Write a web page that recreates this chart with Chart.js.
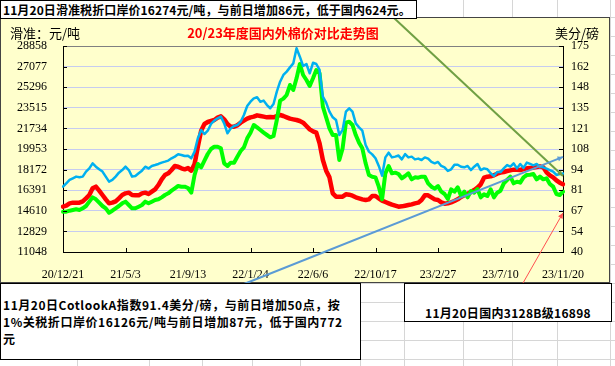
<!DOCTYPE html>
<html>
<head>
<meta charset="utf-8">
<script src="https://cdn.jsdelivr.net/npm/chart.js@4"></script>
<style>
  body { margin: 0; width: 615px; height: 366px; overflow: hidden; position: relative; font-family: "Noto Sans CJK SC", sans-serif; }
  #c { position: absolute; left: 0; top: 0; }
  .box { position: absolute; background: #fff; border: 1px solid #000; box-sizing: border-box; font-weight: bold; font-size: 12px; color: #000; white-space: nowrap; }
  .lbl { position: absolute; font-size: 13px; line-height: 16px; white-space: nowrap; color: #000; }
</style>
</head>
<body>
<canvas id="c" width="615" height="366"></canvas>
<div class="box" style="left:0;top:0;width:417px;height:19px;line-height:17px;padding-left:2px;letter-spacing:0.1px;">11月20日滑准税折口岸价16274元/吨，与前日增加86元，低于国内624元。</div>
<div class="lbl" style="left:10px;top:25px;">滑准：元/吨</div>
<div class="lbl" style="left:0;top:25px;width:566px;text-align:center;color:#f00;font-weight:bold;">20/23年度国内外棉价对比走势图</div>
<div class="lbl" style="left:555px;top:25px;">美分/磅</div>
<div class="box" style="left:0;top:283px;width:361px;height:77px;line-height:17px;padding:12px 0 0 2px;letter-spacing:0.55px;">11月20日CotlookA指数91.4美分/磅，与前日增加50点，按<br>1%关税折口岸价16126元/吨与前日增加87元，低于国内772<br>元</div>
<div class="box" style="left:404px;top:283px;width:208px;height:39px;line-height:16px;padding-top:21px;text-align:center;letter-spacing:0.3px;">11月20日国内3128B级16898</div>
<script>
// weekly readings, 20/12/21 .. 23/11/20
const xTicks = ['20/12/21', '21/5/3', '21/9/13', '22/1/24', '22/6/6', '22/10/17', '23/2/27', '23/7/10', '23/11/20']
const leftTicks = [11048, 12829, 14610, 16391, 18172, 19953, 21734, 23515, 25296, 27077, 28858]
const rightTicks = [40, 53.5, 67, 80.5, 94, 107.5, 121, 134.5, 148, 161.5, 175]
const rightTickLabels = ['40', '54', '67', '81', '94', '108', '121', '135', '148', '162', '175']

// Cotlook A, US cents/lb (right axis)
const cotlookA = [
  82.8, 85.0, 87.2, 88.3, 89.4, 89.0, 89.4, 92.7, 94.8, 98.1,
  95.9, 94.2, 92.7, 89.4, 86.1, 87.2, 89.4, 92.0, 93.7, 95.9,
  93.7, 89.4, 89.8, 91.6, 93.3, 95.9, 94.8, 96.4, 97.0, 97.7,
  98.6, 99.2, 99.9, 101.4, 102.5, 104.0, 103.6, 102.9, 103.1,
  101.4, 105.8, 114.5, 120.0, 117.3, 119.5, 123.9, 126.1, 127.6, 128.7,
  124.3, 117.8, 121.0, 122.6, 123.2, 125.4, 129.8, 135.7, 138.5, 140.7,
  141.4, 138.5, 139.2, 136.3, 134.2, 137.0, 145.1, 151.6, 156.0, 158.2,
  161.0, 163.6, 173.5, 168.0, 161.9, 163.2, 157.1, 164.0,
  163.2, 159.3, 141.8, 137.9, 132.0, 128.3, 126.5, 116.7, 120.0, 132.0,
  134.2, 132.0, 124.3, 121.7, 119.5, 110.1, 105.8, 104.0, 101.4, 96.4,
  90.0, 102.0, 105.1, 102.0, 102.5, 103.2, 100.7, 104.2, 102.0, 102.5,
  100.7, 101.2, 100.3, 102.0, 101.2, 99.0, 98.1,
  99.0, 96.4, 95.5, 93.1, 94.2, 97.2, 97.2, 95.9, 95.5, 96.4,
  93.7, 95.9, 97.7, 93.7, 94.8, 94.2, 91.6, 89.8, 92.4, 92.4,
  94.8, 97.0, 95.9, 98.1, 94.8, 97.7, 95.1, 98.6, 97.7, 96.8,
  97.7, 95.9, 95.5, 94.6, 93.7, 92.7, 90.5, 91.1, 91.4
]

// domestic 3128B, yuan/t (left axis)
const domestic3128B = [
  14967, 15053, 15255, 15313, 15313, 15313, 15428, 15688, 15976, 16552,
  16696, 16350, 15976, 15602, 15255, 15313, 15428, 15688, 15976, 16120,
  16178, 15976, 15947, 15947, 16120, 16178, 16062, 16264, 16466, 16840,
  17330, 17705, 17849, 18137, 18483, 18425, 18281, 18195, 18300,
  18080, 18656, 20155, 21538, 22115, 22287, 22374, 22460, 22662, 22777,
  22518, 22115, 21884, 21884, 21999, 22230, 22403, 22576, 22691, 22749,
  22864, 22806, 22749, 22691, 22720, 22691, 22806, 22892, 22806, 22691,
  22576, 22518, 22460, 22374, 22230, 21941, 21650, 21480,
  21365, 20443, 19002, 18080, 17503, 16120, 15832, 15832, 15832, 16033,
  16004, 15918, 15774, 15688, 15601, 15544, 15601, 15889, 15889, 15688,
  15486, 15370, 15255, 15140, 15053, 14967, 14996, 15053, 15111, 15169,
  15255, 15313, 15544, 15947, 15947, 15774, 15601,
  15544, 15342, 15226, 15255, 15342, 15457, 15601, 15803, 15947, 16091,
  16235, 16408, 16610, 16898, 17474, 17561, 17590, 17676, 17820, 17907,
  17964, 18051, 18108, 18166, 18166, 18137, 18224, 18281, 18310, 18339,
  18397, 18454, 18368, 17935, 17676, 17503, 17244, 17042, 16898
]

// sliding-duty landed price, yuan/t (left axis)
const slidingDuty = [
  14535, 14535, 14621, 14679, 14737, 14679, 14823, 15025, 15400, 15774,
  15602, 15313, 15025, 14823, 14448, 14621, 14823, 15025, 15255, 15400,
  15111, 14823, 14823, 14967, 15111, 15400, 15255, 15400, 15544, 15602,
  15774, 15976, 16120, 16350, 16552, 16754, 16696, 16696, 16580,
  16178, 17705, 18656, 18368, 18944, 19520, 19953, 20155, 20155, 20010,
  18714, 18483, 18771, 18771, 19290, 19780, 20097, 20875, 21365, 22028,
  21826, 21596, 21365, 21163, 20962, 21077, 22460, 24132, 24305, 24622,
  25486, 25054, 26063, 27300, 26351, 25919, 25400, 26063,
  26783, 26495, 23613, 22691, 21740, 21163, 21163, 19002, 20010, 22230,
  22316, 22028, 21163, 20501, 20010, 18714, 17705, 17561, 17503, 16696,
  15600, 17849, 18483, 17849, 17907, 17791, 17417, 17618, 17849, 17330,
  17503, 17474, 17561, 17561, 16985, 16696, 16524,
  16754, 16264, 16062, 15630, 16466, 16264, 16639, 15918, 16264, 15774,
  16322, 16178, 16494, 15774, 16033, 15889, 16466, 15774, 16178, 16350,
  16985, 17273, 17561, 16985, 17129, 17042, 17503, 17705, 17734, 17791,
  17330, 17561, 17330, 17417, 16927, 16696, 16062, 15976, 16274
]

const weeksPerTick = 19
const labels = cotlookA.map((_, i) => i % weeksPerTick === 0 ? xTicks[i / weeksPerTick] : '')

// callout connectors from the text boxes: start pixel, end value on right axis
const callouts = [
  { from: [394, 18], to: 89.8, color: '#70A044', width: 2 },
  { from: [244, 284], to: 102.3, color: '#5B9BD5', width: 2 },
  { from: [523, 283], to: 65.6, color: '#FF5050', width: 1 }
]

const sheet = {
  id: 'sheet',
  beforeDraw(chart) {
    const ctx = chart.ctx
    ctx.save()
    ctx.fillStyle = '#fff'
    ctx.fillRect(0, 0, 615, 366)
    ctx.strokeStyle = '#d6d6d6'
    ctx.lineWidth = 1
    ctx.beginPath()
    for (let y = 17; y < 366; y += 19) { ctx.moveTo(0, y + 0.5); ctx.lineTo(615, y + 0.5) }
    ;[77, 149, 202, 252, 300, 360, 404, 463, 512, 557, 610].forEach(x => { ctx.moveTo(x + 0.5, 0); ctx.lineTo(x + 0.5, 366) })
    ctx.stroke()
    ctx.fillStyle = '#FFFFCC'
    ctx.fillRect(0, 17, 610, 266)
    ctx.strokeStyle = '#444'
    ctx.strokeRect(0.5, 17.5, 609, 265)
    ctx.restore()
  },
  beforeDatasetsDraw(chart) {
    const { ctx, chartArea: a } = chart
    ctx.save()
    ctx.strokeStyle = '#808080'
    ctx.lineWidth = 1
    ctx.beginPath()
    ctx.moveTo(a.left, a.top + 0.5)
    ctx.lineTo(a.right, a.top + 0.5)
    ctx.stroke()
    ctx.restore()
  },
  afterDraw(chart) {
    const { ctx, chartArea: a, scales } = chart
    ctx.save()
    ctx.strokeStyle = '#000'
    ctx.lineWidth = 1
    ctx.beginPath()
    scales.y.ticks.forEach(t => {
      const py = Math.round(scales.y.getPixelForValue(t.value)) + 0.5
      ctx.moveTo(a.left, py); ctx.lineTo(a.left + 4, py)
    })
    scales.y1.ticks.forEach(t => {
      const py = Math.round(scales.y1.getPixelForValue(t.value)) + 0.5
      ctx.moveTo(a.right - 4, py); ctx.lineTo(a.right, py)
    })
    scales.x.ticks.forEach(t => {
      const px = Math.round(scales.x.getPixelForValue(t.value)) + 0.5
      ctx.moveTo(px, a.bottom); ctx.lineTo(px, a.bottom - 4)
    })
    ctx.stroke()

    callouts.forEach(c => {
      const x0 = c.from[0], y0 = c.from[1]
      const x1 = a.right, y1 = scales.y1.getPixelForValue(c.to)
      ctx.strokeStyle = c.color
      ctx.fillStyle = c.color
      ctx.lineWidth = c.width
      ctx.beginPath()
      ctx.moveTo(x0, y0)
      ctx.lineTo(x1, y1)
      ctx.stroke()
      const ang = Math.atan2(y1 - y0, x1 - x0)
      const s = 6
      ctx.beginPath()
      ctx.moveTo(x1, y1)
      ctx.lineTo(x1 - s * Math.cos(ang - 0.45), y1 - s * Math.sin(ang - 0.45))
      ctx.lineTo(x1 - s * Math.cos(ang + 0.45), y1 - s * Math.sin(ang + 0.45))
      ctx.closePath()
      ctx.fill()
    })
    ctx.restore()
  }
}

const tickFont = { family: '"Liberation Serif", serif', size: 12 }

new Chart(document.getElementById('c'), {
  type: 'line',
  data: {
    labels,
    datasets: [
      { label: 'CotlookA', data: cotlookA, yAxisID: 'y1', borderColor: '#00B0F0', borderWidth: 2.5 },
      { label: '滑准税', data: slidingDuty, yAxisID: 'y', borderColor: '#00FF00', borderWidth: 4 },
      { label: '3128B', data: domestic3128B, yAxisID: 'y', borderColor: '#FF0000', borderWidth: 4.5 }
    ]
  },
  options: {
    responsive: false,
    animation: false,
    layout: { padding: { top: 46, left: 0, right: 0, bottom: 0 } },
    elements: { point: { radius: 0 }, line: { tension: 0, borderJoinStyle: 'round', borderCapStyle: 'round' } },
    plugins: { legend: { display: false }, tooltip: { enabled: false } },
    scales: {
      x: {
        grid: { display: false },
        border: { color: '#000', width: 1 },
        afterBuildTicks: s => { s.ticks = xTicks.map((_, k) => ({ value: k * weeksPerTick })) },
        afterFit: s => { s.height = 114 },
        ticks: { autoSkip: false, maxRotation: 0, padding: 8, color: '#000', font: tickFont, callback: (v, i) => xTicks[i] }
      },
      y: {
        position: 'left',
        min: 11048, max: 28858,
        grid: { color: '#C6CCF0', lineWidth: 1, drawTicks: false },
        border: { color: '#000', width: 1 },
        afterBuildTicks: s => { s.ticks = leftTicks.map(v => ({ value: v })) },
        afterFit: s => { s.width = 63 },
        ticks: { padding: 16, color: '#000', font: tickFont, callback: v => String(v) }
      },
      y1: {
        position: 'right',
        min: 40, max: 175,
        grid: { display: false, drawTicks: false },
        border: { color: '#000', width: 1 },
        afterBuildTicks: s => { s.ticks = rightTicks.map(v => ({ value: v })) },
        afterFit: s => { s.width = 52 },
        ticks: { padding: 8, color: '#000', font: tickFont, callback: (v, i) => rightTickLabels[i] }
      }
    }
  },
  plugins: [sheet]
})
</script>
</body>
</html>
